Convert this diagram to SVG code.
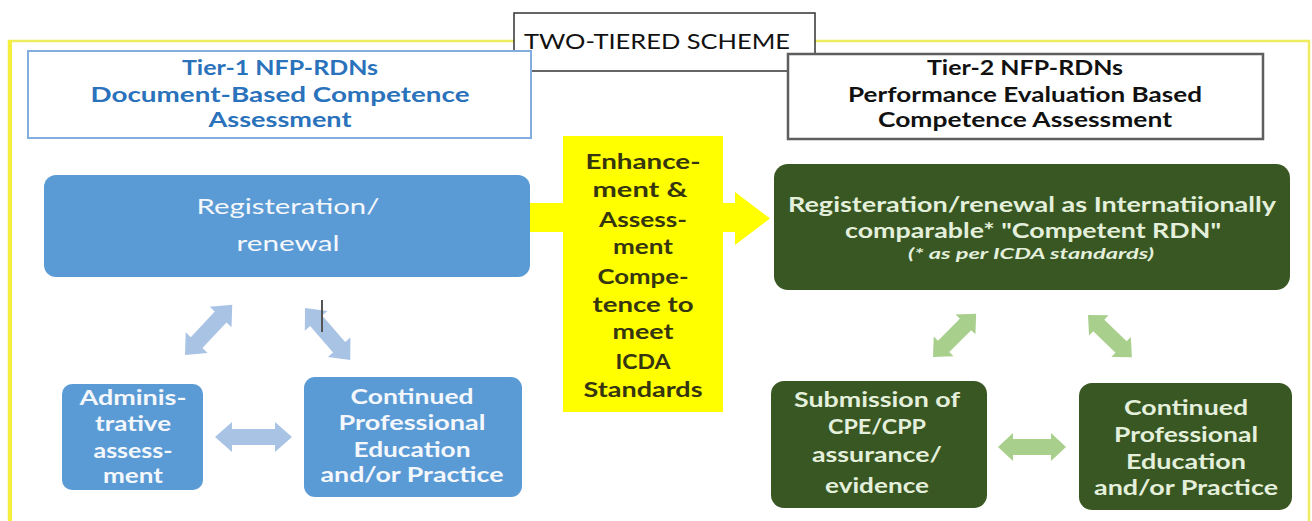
<svg xmlns="http://www.w3.org/2000/svg" width="1312" height="521" viewBox="0 0 1312 521">
<defs>
<style>
.t{font-family:Lato,"Open Sans","Liberation Sans",sans-serif;text-anchor:middle}
.b{font-weight:700}
.w{fill:#f4f7fb}
.g{fill:#e4efdc}
.blue{fill:#5b9bd5}
.green{fill:#385723}
.ba{fill:#a9c3e5}
.ga{fill:#a8cf8c}
</style>
<path id="bd" d="M0,0 L17,-15 L17,-8 L52,-8 L52,-15 L69,0 L52,15 L52,8 L17,8 L17,15 Z"/>
<path id="bh" d="M0,0 L17,-15 L17,-8 L60,-8 L60,-15 L77,0 L60,15 L60,8 L17,8 L17,15 Z"/>
<path id="gd" d="M0,0 L15,-14 L15,-8 L46,-8 L46,-14 L61,0 L46,14 L46,8 L15,8 L15,14 Z"/>
<path id="gh" d="M0,0 L15,-14 L15,-8 L53,-8 L53,-14 L68,0 L53,14 L53,8 L15,8 L15,14 Z"/>
</defs>
<rect width="1312" height="521" fill="#ffffff"/>
<g id="frame">
<rect x="9" y="41" width="1300" height="500" fill="none" stroke="#f0ec60" stroke-width="2.5"/>
<line x1="10" y1="40" x2="10" y2="521" stroke="#f3ef3c" stroke-width="4"/>
</g>
<g id="title">
<rect x="514" y="13" width="301" height="58" fill="#ffffff" stroke="#333333" stroke-width="1.5"/>
<text class="t" x="657" y="49" font-size="21" fill="#111111" textLength="266" lengthAdjust="spacingAndGlyphs">TWO-TIERED SCHEME</text>
</g>
<g id="tier1-header">
<rect x="28" y="51" width="503" height="87" fill="#ffffff" stroke="#82addf" stroke-width="2"/>
<g class="t b" font-size="20" fill="#2a72bb">
<text x="280" y="75" textLength="196" lengthAdjust="spacingAndGlyphs">Tier-1 NFP-RDNs</text>
<text x="280" y="102" textLength="379" lengthAdjust="spacingAndGlyphs">Document-Based Competence</text>
<text x="280" y="127" textLength="143" lengthAdjust="spacingAndGlyphs">Assessment</text>
</g>
</g>
<g id="tier2-header">
<rect x="788" y="54" width="475" height="85" fill="#ffffff" stroke="#5e5e5e" stroke-width="2.5"/>
<g class="t b" font-size="20" fill="#111111">
<text x="1025" y="75" textLength="196" lengthAdjust="spacingAndGlyphs">Tier-2 NFP-RDNs</text>
<text x="1025" y="102" textLength="354" lengthAdjust="spacingAndGlyphs">Performance Evaluation Based</text>
<text x="1025" y="127" textLength="294" lengthAdjust="spacingAndGlyphs">Competence Assessment</text>
</g>
</g>
<g id="connectors">
<polygon id="yellow-arrow" points="530,203 735,203 735,192 770,218.5 735,245 735,232 530,232" fill="#ffff00"/>
<use href="#bd" class="ba" transform="translate(185,355) rotate(-46.8)"/>
<use href="#bd" class="ba" transform="translate(305,308) rotate(49)"/>
<use href="#bh" class="ba" transform="translate(215,437)"/>
<line x1="322" y1="300" x2="322" y2="332" stroke="#555555" stroke-width="2"/>
<use href="#gd" class="ga" transform="translate(933,357) rotate(-45)"/>
<use href="#gd" class="ga" transform="translate(1088,315) rotate(44)"/>
<use href="#gh" class="ga" transform="translate(998,447)"/>
</g>
<g id="reg-left">
<rect x="44" y="175" width="486" height="102" rx="12" class="blue"/>
<g class="t w" font-size="22">
<text x="288" y="214" textLength="183" lengthAdjust="spacingAndGlyphs">Registeration/</text>
<text x="288" y="251" textLength="103" lengthAdjust="spacingAndGlyphs">renewal</text>
</g>
</g>
<g id="enhancement">
<rect x="563" y="136" width="160" height="276" fill="#ffff00"/>
<g class="t b" font-size="20" fill="#35350f">
<text x="643" y="169" textLength="115" lengthAdjust="spacingAndGlyphs">Enhance-</text>
<text x="640" y="197" textLength="95" lengthAdjust="spacingAndGlyphs">ment &amp;</text>
<text x="643" y="227" textLength="88" lengthAdjust="spacingAndGlyphs">Assess-</text>
<text x="643" y="254" textLength="60" lengthAdjust="spacingAndGlyphs">ment</text>
<text x="643" y="284" textLength="91" lengthAdjust="spacingAndGlyphs">Compe-</text>
<text x="643" y="312" textLength="101" lengthAdjust="spacingAndGlyphs">tence to</text>
<text x="643" y="339" textLength="61" lengthAdjust="spacingAndGlyphs">meet</text>
<text x="643" y="369" textLength="55" lengthAdjust="spacingAndGlyphs">ICDA</text>
<text x="643" y="397" textLength="119" lengthAdjust="spacingAndGlyphs">Standards</text>
</g>
</g>
<g id="admin">
<rect x="62" y="384" width="141" height="106" rx="10" class="blue"/>
<g class="t b w" font-size="21">
<text x="133" y="405" textLength="107" lengthAdjust="spacingAndGlyphs">Adminis-</text>
<text x="133" y="431" textLength="76" lengthAdjust="spacingAndGlyphs">trative</text>
<text x="133" y="458" textLength="79" lengthAdjust="spacingAndGlyphs">assess-</text>
<text x="133" y="483" textLength="60" lengthAdjust="spacingAndGlyphs">ment</text>
</g>
</g>
<g id="cpe-left">
<rect x="304" y="377" width="218" height="120" rx="11" class="blue"/>
<g class="t b w" font-size="21">
<text x="412" y="404" textLength="123" lengthAdjust="spacingAndGlyphs">Continued</text>
<text x="412" y="430" textLength="147" lengthAdjust="spacingAndGlyphs">Professional</text>
<text x="412" y="457" textLength="117" lengthAdjust="spacingAndGlyphs">Education</text>
<text x="412" y="482" textLength="183" lengthAdjust="spacingAndGlyphs">and/or Practice</text>
</g>
</g>
<g id="reg-right">
<rect x="774" y="164" width="516" height="126" rx="14" class="green"/>
<g class="t b g">
<text x="1032" y="212" font-size="20" textLength="488" lengthAdjust="spacingAndGlyphs">Registeration/renewal as Internatiionally</text>
<text x="1033" y="238" font-size="20" textLength="376" lengthAdjust="spacingAndGlyphs">comparable* "Competent RDN"</text>
<text x="1031" y="259" font-size="15" font-style="italic" textLength="246" lengthAdjust="spacingAndGlyphs">(* as per ICDA standards)</text>
</g>
</g>
<g id="submission">
<rect x="771" y="381" width="216" height="127" rx="13" class="green"/>
<g class="t b g" font-size="21">
<text x="877" y="407" textLength="166" lengthAdjust="spacingAndGlyphs">Submission of</text>
<text x="877" y="434" textLength="98" lengthAdjust="spacingAndGlyphs">CPE/CPP</text>
<text x="877" y="462" textLength="130" lengthAdjust="spacingAndGlyphs">assurance/</text>
<text x="877" y="493" textLength="104" lengthAdjust="spacingAndGlyphs">evidence</text>
</g>
</g>
<g id="cpe-right">
<rect x="1079" y="383" width="213" height="127" rx="13" class="green"/>
<g class="t b g" font-size="21">
<text x="1186" y="415" textLength="124" lengthAdjust="spacingAndGlyphs">Continued</text>
<text x="1186" y="442" textLength="144" lengthAdjust="spacingAndGlyphs">Professional</text>
<text x="1186" y="469" textLength="120" lengthAdjust="spacingAndGlyphs">Education</text>
<text x="1186" y="495" textLength="184" lengthAdjust="spacingAndGlyphs">and/or Practice</text>
</g>
</g>
</svg>
